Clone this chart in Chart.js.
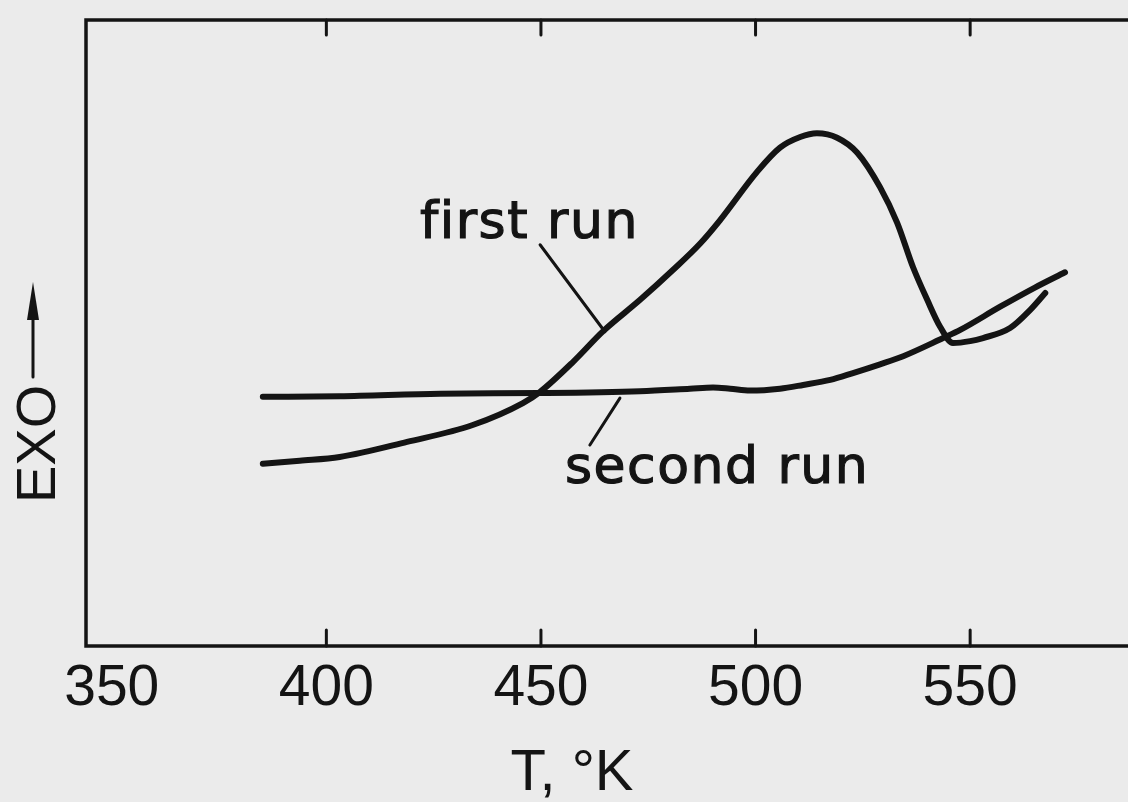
<!DOCTYPE html>
<html>
<head>
<meta charset="utf-8">
<script src="https://cdn.jsdelivr.net/npm/chart.js@4"></script>
<style>
  html, body { margin: 0; padding: 0; background: #ebebeb; overflow: hidden; }
  #wrap { position: relative; width: 1170px; height: 802px; }
</style>
</head>
<body>
<div id="wrap"><canvas id="dscChart"></canvas></div>
<script>
// Temperature axis (K) and tick labels
const tickValues = [350, 400, 450, 500, 550];
const tickMarks = [400, 450, 500, 550];

// First run (arbitrary exo units 0-100)
const firstRunT = [385.2, 393.8, 403.1, 418.8, 434.1, 445.8, 449.8, 457.5, 464.5, 473.1,
                   480.8, 487.1, 491.7, 500.3, 505.7, 510.4, 514.3, 519.0, 523.7,
                   529.0, 533.0, 536.7, 540.0, 543.0, 546.0, 550.0, 553.0, 559.3, 564.0, 567.5];
const firstRunV = [29.1, 29.6, 30.2, 32.6, 35.3, 38.8, 40.6, 45.4, 50.3, 55.3,
                   60.1, 64.3, 68.0, 75.7, 79.6, 81.3, 81.9, 81.2, 78.8,
                   73.3, 67.6, 60.5, 55.3, 51.0, 48.4, 48.7, 49.2, 50.8, 53.7, 56.4];

// Second run
const secondRunT = [385.2, 403.1, 426.5, 449.8, 473.1, 484.7, 490.1, 494.1, 498.7, 505.7,
                    511.1, 517.4, 522.7, 529.0, 534.4, 543.7, 547.7, 557.0, 565.2, 572.1];
const secondRunV = [39.8, 39.9, 40.3, 40.4, 40.7, 41.1, 41.3, 41.1, 40.8, 41.1,
                    41.7, 42.5, 43.6, 45.0, 46.3, 49.2, 50.5, 54.2, 57.3, 59.7];

const ink = '#141414';

function toPoints(xs, ys) {
    return xs.map((x, i) => ({ x: x, y: ys[i] }));
}

// frame, inward ticks, leader lines, annotations and axis titles
const decorations = {
    id: 'decorations',
    afterDraw(chart) {
        const ctx = chart.ctx;
        const area = chart.chartArea;
        const xs = chart.scales.x;
        const ys = chart.scales.y;
        ctx.save();
        ctx.strokeStyle = ink;
        ctx.fillStyle = ink;
        ctx.lineCap = 'round';

        // frame
        ctx.lineWidth = 3.5;
        ctx.strokeRect(area.left, area.top, area.right - area.left, area.bottom - area.top);

        // inward ticks top and bottom
        ctx.lineWidth = 3;
        tickMarks.forEach(v => {
            const px = xs.getPixelForValue(v);
            ctx.beginPath();
            ctx.moveTo(px, area.bottom);
            ctx.lineTo(px, area.bottom - 16);
            ctx.moveTo(px, area.top);
            ctx.lineTo(px, area.top + 15);
            ctx.stroke();
        });

        // leader lines
        ctx.lineWidth = 3;
        [[449.8, 64.1, 464.9, 50.2], [468.4, 39.6, 461.4, 32.1]].forEach(l => {
            ctx.beginPath();
            ctx.moveTo(xs.getPixelForValue(l[0]), ys.getPixelForValue(l[1]));
            ctx.lineTo(xs.getPixelForValue(l[2]), ys.getPixelForValue(l[3]));
            ctx.stroke();
        });

        // curve labels
        ctx.font = "52px 'DejaVu Sans'";
        ctx.letterSpacing = '1.5px';
        ctx.textAlign = 'left';
        ctx.textBaseline = 'alphabetic';
        ctx.lineWidth = 1.2;
        [['first run', 421.8, 65.2], ['second run', 455.6, 26.0]].forEach(a => {
            const px = xs.getPixelForValue(a[1]);
            const py = ys.getPixelForValue(a[2]);
            ctx.fillText(a[0], px, py);
            ctx.strokeText(a[0], px, py);
        });
        ctx.letterSpacing = '0px';

        // x title
        ctx.font = "58px 'Liberation Sans'";
        ctx.textAlign = 'center';
        ctx.fillText('T, °K', 572, 790);

        // y title, rotated, with arrow
        ctx.save();
        ctx.translate(55, 503);
        ctx.rotate(-Math.PI / 2);
        ctx.font = "56px 'Liberation Sans'";
        ctx.textAlign = 'left';
        ctx.fillText('EXO', 0, 0);
        ctx.restore();

        ctx.lineWidth = 3;
        ctx.beginPath();
        ctx.moveTo(33, 377);
        ctx.lineTo(33, 300);
        ctx.stroke();
        ctx.beginPath();
        ctx.moveTo(33, 282);
        ctx.lineTo(27, 320);
        ctx.lineTo(39, 320);
        ctx.closePath();
        ctx.fill();

        ctx.restore();
    }
};

const ctx = document.getElementById('dscChart').getContext('2d');
new Chart(ctx, {
    type: 'line',
    data: {
        datasets: [
            {
                label: 'first run',
                data: toPoints(firstRunT, firstRunV),
                borderColor: ink,
                borderWidth: 6,
                pointRadius: 0,
                cubicInterpolationMode: 'monotone',
                borderCapStyle: 'round',
                borderJoinStyle: 'round',
                fill: false
            },
            {
                label: 'second run',
                data: toPoints(secondRunT, secondRunV),
                borderColor: ink,
                borderWidth: 6,
                pointRadius: 0,
                cubicInterpolationMode: 'monotone',
                borderCapStyle: 'round',
                borderJoinStyle: 'round',
                fill: false
            }
        ]
    },
    options: {
        responsive: true,
        maintainAspectRatio: false,
        animation: false,
        events: [],
        layout: {
            padding: { left: 86, top: 20, right: 11, bottom: 0 }
        },
        scales: {
            x: {
                type: 'linear',
                min: 344,
                max: 594,
                afterBuildTicks: scale => {
                    scale.ticks = tickValues.map(v => ({ value: v }));
                },
                afterFit: scale => {
                    scale.height = 156;
                },
                grid: { display: false },
                border: { display: false },
                ticks: {
                    color: ink,
                    padding: 1,
                    maxRotation: 0,
                    font: { family: "'Liberation Sans'", size: 57 }
                }
            },
            y: {
                min: 0,
                max: 100,
                display: false
            }
        },
        plugins: {
            legend: { display: false },
            tooltip: { enabled: false }
        }
    },
    plugins: [decorations]
});
</script>
</body>
</html>
